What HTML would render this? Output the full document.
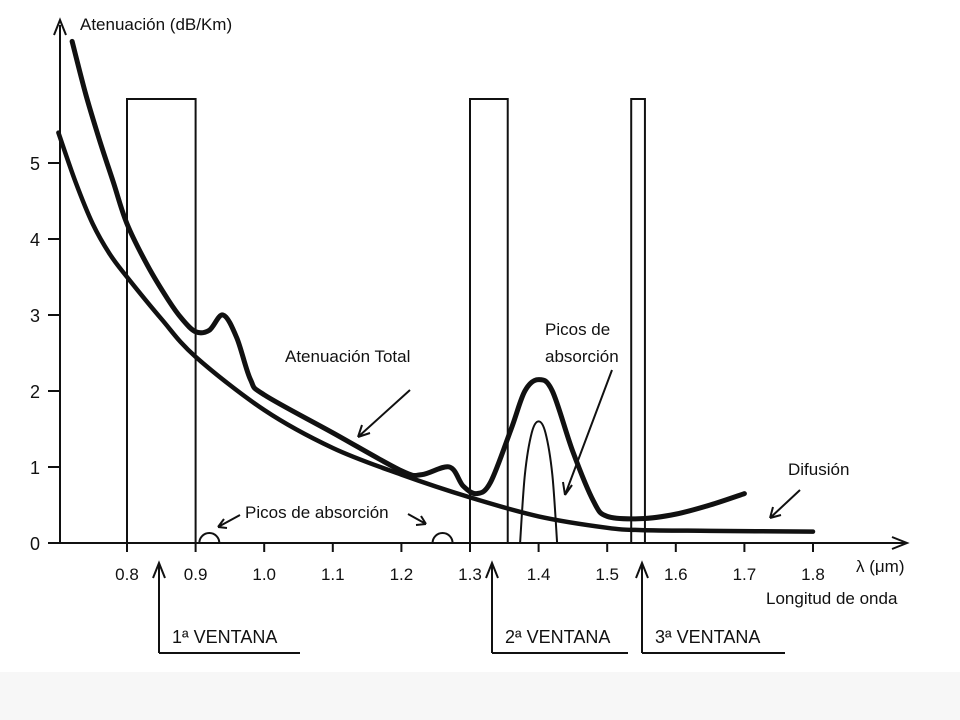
<!DOCTYPE html>
<html><head><meta charset="utf-8"><style>
body{margin:0;background:#fff}
svg{display:block}
text{font-family:"Liberation Sans",sans-serif;fill:#111}
</style></head><body>
<svg id="c" width="960" height="720">
<rect x="0" y="672" width="960" height="48" fill="#f7f7f7"/>
<g id="g"></g>
</svg>
<script>
const xTicks=[0.8,0.9,1.0,1.1,1.2,1.3,1.4,1.5,1.6,1.7,1.8];
const xTickLabels=["0.8","0.9","1.0","1.1","1.2","1.3","1.4","1.5","1.6","1.7","1.8"];
const yTicks=[0,1,2,3,4,5];
const totalX=[0.72,0.74,0.76,0.78,0.8,0.83,0.86,0.88,0.9,0.92,0.94,0.96,0.98,1.0,1.1,1.2,1.23,1.27,1.29,1.31,1.33,1.36,1.38,1.4,1.42,1.45,1.48,1.5,1.55,1.6,1.65,1.7];
const totalY=[6.6,5.9,5.3,4.75,4.2,3.65,3.2,2.95,2.78,2.8,3.0,2.7,2.15,1.95,1.45,0.95,0.9,1.0,0.75,0.65,0.8,1.5,2.0,2.15,2.0,1.2,0.55,0.35,0.32,0.38,0.5,0.65];
const difX=[0.7,0.725,0.75,0.775,0.8,0.85,0.9,1.0,1.1,1.2,1.3,1.4,1.5,1.55,1.65,1.8];
const difY=[5.4,4.75,4.2,3.8,3.5,2.95,2.45,1.75,1.25,0.9,0.6,0.35,0.2,0.17,0.16,0.15];
const peakX=[1.373,1.38,1.39,1.40,1.41,1.42,1.427];
const peakY=[0,0.9,1.45,1.6,1.45,0.9,0];
const windows=[[0.8,0.9],[1.3,1.355],[1.535,1.555]];
const X=v=>127+(v-0.8)*686;
const Y=v=>543-76*v;
const g=document.getElementById('g');
const NS='http://www.w3.org/2000/svg';
function mk(t,a){const e=document.createElementNS(NS,t);for(const k in a)e.setAttribute(k,a[k]);g.appendChild(e);return e;}
function smooth(xs,ys){const p=xs.map((x,i)=>[X(x),Y(ys[i])]);let d='M'+p[0];for(let i=0;i<p.length-1;i++){const a=p[i-1]||p[i],b=p[i],c=p[i+1],e=p[i+2]||c;d+=' C'+(b[0]+(c[0]-a[0])/6)+','+(b[1]+(c[1]-a[1])/6)+' '+(c[0]-(e[0]-b[0])/6)+','+(c[1]-(e[1]-b[1])/6)+' '+c;}return d;}
windows.forEach((w,i)=>{const r=mk('rect',{x:X(w[0]),y:99,width:X(w[1])-X(w[0]),height:543-99,fill:'none',stroke:'#111','stroke-width':2});

});
let ax=mk('path',{d:'M60,543 L60,25 M54,35 L60,20 L66,35',fill:'none',stroke:'#111','stroke-width':2});


ax=mk('path',{d:'M60,543 L905,543 M892,537 L907,543 L892,549',fill:'none',stroke:'#111','stroke-width':2});


xTicks.forEach((v,i)=>{mk('line',{x1:X(v),x2:X(v),y1:543,y2:552,stroke:'#111','stroke-width':2});
const t=mk('text',{x:X(v),y:580,'font-size':17,'text-anchor':'middle'});t.textContent=xTickLabels[i];

});
yTicks.forEach(v=>{mk('line',{x1:48,x2:60,y1:Y(v),y2:Y(v),stroke:'#111','stroke-width':2});
const t=mk('text',{x:40,y:Y(v)+7,'font-size':18,'text-anchor':'end'});t.textContent=v;

});
let p=mk('path',{d:smooth(totalX,totalY),fill:'none',stroke:'#111','stroke-width':5,'stroke-linecap':'round'});


p=mk('path',{d:smooth(difX,difY),fill:'none',stroke:'#111','stroke-width':4.5,'stroke-linecap':'round'});


p=mk('path',{d:smooth(peakX,peakY),fill:'none',stroke:'#111','stroke-width':2});


[0.92,1.26].forEach(v=>{const q=mk('path',{d:`M${X(v)-10},543 A10,10 0 0 1 ${X(v)+10},543`,fill:'none',stroke:'#111','stroke-width':2});

});
</script>
<svg width="960" height="720" style="position:absolute;left:0;top:0">
<g fill="none" stroke="#111" stroke-width="2">
<path d="M410,390 L358,437 M358,437 L362,425 M358,437 L370,433"/>
<path d="M612,370 L565,495 M565,495 L563,482 M565,495 L572,485"/>
<path d="M800,490 L770,518 M770,518 L773,507 M770,518 L781,515"/>
<path d="M240,515 L218,527 M218,527 L224,519 M218,527 L227,528"/>
<path d="M408,514 L426,524 M426,524 L416,525 M426,524 L421,516"/>
<path d="M159,653 L159,565 M153,578 L159,563 L165,578 M159,653 L300,653"/>
<path d="M492,653 L492,565 M486,578 L492,563 L498,578 M492,653 L628,653"/>
<path d="M642,653 L642,565 M636,578 L642,563 L648,578 M642,653 L785,653"/>
</g>
<text x="80" y="30" font-size="17">Atenuación (dB/Km)</text>
<text x="285" y="362" font-size="17">Atenuación Total</text>
<text x="545" y="335" font-size="17">Picos de</text>
<text x="545" y="362" font-size="17">absorción</text>
<text x="788" y="475" font-size="17">Difusión</text>
<text x="245" y="518" font-size="17">Picos de absorción</text>
<text x="856" y="572" font-size="17">λ (μm)</text>
<text x="766" y="604" font-size="17">Longitud de onda</text>
<text x="172" y="643" font-size="18">1ª VENTANA</text>
<text x="505" y="643" font-size="18">2ª VENTANA</text>
<text x="655" y="643" font-size="18">3ª VENTANA</text>
</svg>
</body></html>
